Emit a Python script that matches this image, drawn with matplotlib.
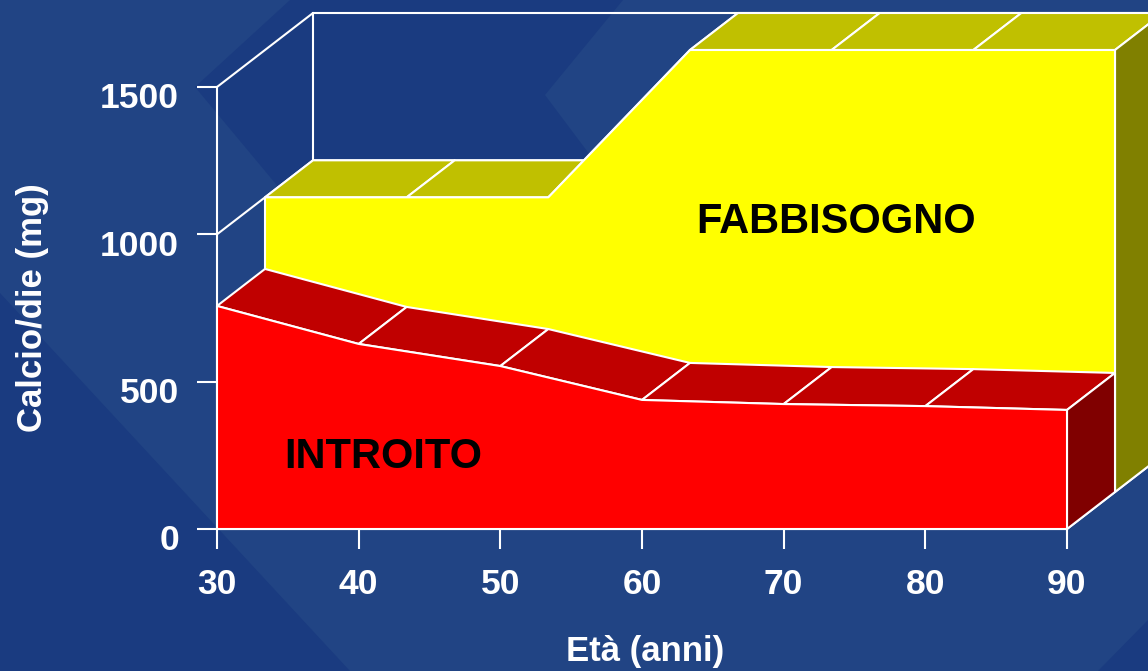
import matplotlib
matplotlib.use("Agg")
import matplotlib.pyplot as plt
from matplotlib.patches import Polygon
from matplotlib.transforms import ScaledTranslation

ages = [30, 40, 50, 60, 70, 80, 90]
introito = [757, 628, 553, 438, 424, 417, 404]
fabbisogno = [1000, 1000, 1000, 1500, 1500, 1500, 1500]
y_ticks = [0, 500, 1000, 1500]

LIGHT_BG = "#214484"
DARK_BG = "#1a3b80"
WHITE = "white"
LW = 1.5

# depth of one series in the fake 3d view, in pixels
DEPTH_X = 48
DEPTH_Y = 37
W, H = 1148, 671
LEFT, RIGHT, BOTTOM, TOP = 217, 1067, 529, 87

plt.rcParams["font.family"] = ["Liberation Sans", "DejaVu Sans"]
plt.rcParams["font.weight"] = "bold"

fig = plt.figure(figsize=(W / 100, H / 100), dpi=100, facecolor=LIGHT_BG)

# background shapes
bg = fig.add_axes([0, 0, 1, 1], zorder=0)
bg.set_xlim(0, W)
bg.set_ylim(H, 0)
bg.axis("off")
for pts in [
    [(0, 293), (350, 671), (0, 671)],
    [(195, 87), (290, 0), (623, 0), (545, 95), (620, 195), (285, 195)],
    [(1148, 620), (1148, 671), (1098, 671)],
]:
    bg.add_patch(Polygon(pts, closed=True, fc=DARK_BG, ec="none"))

ax = fig.add_axes([LEFT / W, (H - BOTTOM) / H, (RIGHT - LEFT) / W, (BOTTOM - TOP) / H], zorder=1)
ax.patch.set_alpha(0)
ax.set_xlim(ages[0], ages[-1])
ax.set_ylim(0, 1500)

step_x = (ages[-1] - ages[0]) / (RIGHT - LEFT) * DEPTH_X
step_y = 1500 / (BOTTOM - TOP) * DEPTH_Y


def pt(x, y, depth=0):
    return (x + depth * step_x, y + depth * step_y)


def face(points, color, z):
    ax.add_patch(Polygon(points, closed=True, fc=color, ec=WHITE, lw=LW,
                         joinstyle="round", clip_on=False, zorder=z))


def wall_line(points, z=1):
    ax.plot(*zip(*points), color=WHITE, lw=LW, clip_on=False, zorder=z)


# walls and gridlines
for v in y_ticks[2:]:
    wall_line([pt(ages[0], v), pt(ages[0], v, 2), pt(ages[-1], v, 2)])
wall_line([pt(ages[0], 0, 2), pt(ages[0], 1500, 2)])
wall_line([pt(ages[-1], 0), pt(ages[-1], 0, 2)])

# FABBISOGNO, back series
for i in range(len(ages) - 1):
    face([pt(ages[i], fabbisogno[i], 1), pt(ages[i + 1], fabbisogno[i + 1], 1),
          pt(ages[i + 1], fabbisogno[i + 1], 2), pt(ages[i], fabbisogno[i], 2)], "#c0c000", 2)
face([pt(ages[-1], fabbisogno[-1], 1), pt(ages[-1], fabbisogno[-1], 2),
      pt(ages[-1], 0, 2), pt(ages[-1], 0, 1)], "#808000", 3)
face([pt(a, v, 1) for a, v in zip(ages, fabbisogno)]
     + [pt(ages[-1], 0, 1), pt(ages[0], 0, 1)], "#ffff00", 4)

# INTROITO, front series
for i in range(len(ages) - 1):
    face([pt(ages[i], introito[i]), pt(ages[i + 1], introito[i + 1]),
          pt(ages[i + 1], introito[i + 1], 1), pt(ages[i], introito[i], 1)], "#c00000", 5)
face([pt(ages[-1], introito[-1]), pt(ages[-1], introito[-1], 1),
      pt(ages[-1], 0, 1), pt(ages[-1], 0)], "#800000", 6)
face([pt(a, v) for a, v in zip(ages, introito)]
     + [pt(ages[-1], 0), pt(ages[0], 0)], "#ff0000", 7)

for name in ["top", "right"]:
    ax.spines[name].set_visible(False)
for name in ["left", "bottom"]:
    ax.spines[name].set_color(WHITE)
    ax.spines[name].set_linewidth(LW)

ax.set_xticks(ages)
ax.set_yticks(y_ticks)
ax.tick_params(axis="both", colors=WHITE, length=14.4, width=LW, labelsize=25.5)
ax.tick_params(axis="x", pad=14)
ax.tick_params(axis="y", pad=13)

y_shift = ScaledTranslation(0, -6 / 72, fig.dpi_scale_trans)
for label in ax.get_yticklabels():
    label.set_transform(label.get_transform() + y_shift)

ax.text(836, 222, "FABBISOGNO", transform=None, alpha=0)  # placeholder removed below
ax.texts[-1].remove()

fig.text(836 / W, 1 - 222 / H, "FABBISOGNO", color="black", fontsize=30,
         ha="center", va="center", zorder=5)
fig.text(383 / W, 1 - 457 / H, "INTROITO", color="black", fontsize=30,
         ha="center", va="center", zorder=5)
fig.text(33 / W, 1 - 308 / H, "Calcio/die (mg)", color=WHITE, fontsize=25,
         rotation=90, ha="center", va="center")
fig.text(645 / W, 1 - 651 / H, "Età (anni)", color=WHITE, fontsize=25,
         ha="center", va="center")

fig.savefig("out.png", dpi=100, facecolor=fig.get_facecolor())
